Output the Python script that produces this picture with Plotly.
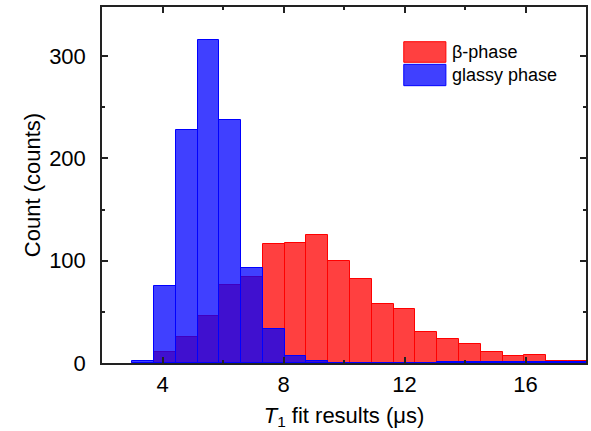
import plotly.graph_objects as go

# Histogram bins (centres, µs)
bin_centers = [3.36, 4.08, 4.80, 5.52, 6.24, 6.96, 7.68, 8.40, 9.12, 9.84, 10.56,
               11.28, 12.00, 12.72, 13.44, 14.16, 14.88, 15.60, 16.32, 17.04, 17.76]
beta_counts = [0, 11, 25, 46, 76, 84, 116, 117, 125, 100, 82,
               58, 53, 30, 23, 19, 11, 7, 8, 2, 2]
glassy_counts = [2, 75, 228, 316, 238, 93, 33, 7, 2, 0, 0,
                 0, 0, 0, 1, 1, 1, 1, 1, 1, 1]

series_names = ["β-phase", "glassy phase"]
x_ticks = [4, 8, 12, 16]
y_ticks = [0, 100, 200, 300]

BIN_W = 0.72
FONT = "Liberation Sans, Arial, sans-serif"

fig = go.Figure()
fig.add_trace(go.Bar(x=bin_centers, y=beta_counts, width=BIN_W, name=series_names[0],
                     marker=dict(color="rgba(255,0,0,0.75)",
                                 line=dict(color="rgb(255,0,0)", width=1)),
                     showlegend=False))
fig.add_trace(go.Bar(x=bin_centers, y=glassy_counts, width=BIN_W, name=series_names[1],
                     marker=dict(color="rgba(0,0,255,0.75)",
                                 line=dict(color="rgb(0,0,255)", width=1)),
                     showlegend=False))

axis_common = dict(
    showline=True, linecolor="#222", linewidth=1.5, mirror="allticks",
    ticks="inside", ticklen=6, tickwidth=1.5, tickcolor="#222",
    showgrid=False, zeroline=False,
    tickfont=dict(family=FONT, size=22, color="black"),
)

fig.update_xaxes(range=[2, 18], tickvals=x_ticks, ticklabelstandoff=1,
                 minor=dict(dtick=2, tick0=0, ticks="inside", ticklen=3, tickwidth=1.5, tickcolor="#222"),
                 title=dict(text="<i>T</i><sub>1</sub> fit results (μs)",
                            font=dict(family=FONT, size=22, color="black"), standoff=11),
                 **axis_common)
fig.update_yaxes(range=[0, 348], tickvals=y_ticks, ticklabelstandoff=10,
                 minor=dict(dtick=50, tick0=0, ticks="inside", ticklen=3, tickwidth=1.5, tickcolor="#222"),
                 title=dict(text="Count (counts)",
                            font=dict(family=FONT, size=22, color="black"), standoff=2),
                 **axis_common)

# Legend drawn as swatches + text
legend_colors = [("rgba(255,0,0,0.75)", "rgb(255,0,0)"), ("rgba(0,0,255,0.75)", "rgb(0,0,255)")]
sw_x0, sw_x1 = 0.6235, 0.7105
sw_rows = [(0.8447, 0.9025), (0.779, 0.839)]
for (fill, line), (y0, y1), name in zip(legend_colors, sw_rows, series_names):
    fig.add_shape(type="rect", xref="paper", yref="paper", x0=sw_x0, x1=sw_x1, y0=y0, y1=y1,
                  fillcolor=fill, line=dict(color=line, width=1))
    fig.add_annotation(xref="paper", yref="paper", x=0.7195, y=(y0 + y1) / 2,
                       xanchor="left", yanchor="middle", text=name, showarrow=False,
                       font=dict(family=FONT, size=18, color="black"))

fig.update_layout(
    width=591, height=431,
    margin=dict(l=102, r=3, t=7, b=68),
    barmode="overlay", bargap=0,
    plot_bgcolor="white", paper_bgcolor="white",
    font=dict(family=FONT, color="black"),
)

fig.write_html("out.html")
